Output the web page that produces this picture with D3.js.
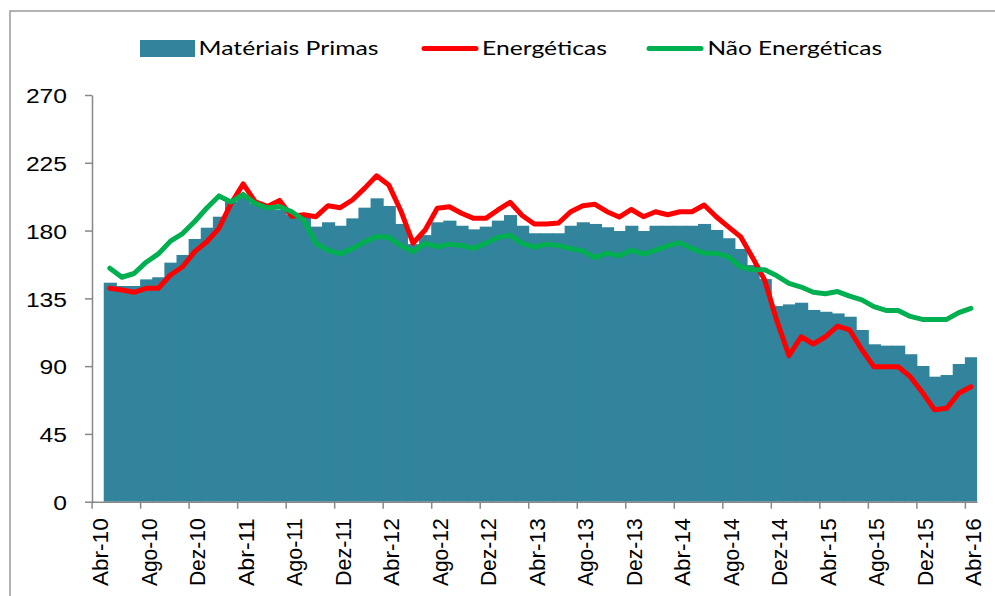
<!DOCTYPE html>
<html>
<head>
<meta charset="utf-8">
<script src="https://cdn.jsdelivr.net/npm/d3@7"></script>
<style>
  body { margin: 0; background: #fff; }
  svg { font-family: Lato, "Liberation Sans", sans-serif; }
</style>
</head>
<body>
<div id="chart"></div>
<script>
// month names used to build the category labels (Abr-10 .. Abr-16)
var monthNames = ["Jan", "Fev", "Mar", "Abr", "Mai", "Jun", "Jul", "Ago", "Set", "Out", "Nov", "Dez"];
var months = [];
for (var k = 0; k < 73; k++) {
    var m = (3 + k) % 12, yr = 10 + Math.floor((3 + k) / 12);
    months.push(monthNames[m] + "-" + yr);
}

// series values (first month has no data)
var materiasPrimas = [null, 145.4, 143.2, 143.2, 147.6, 149, 158.7, 163.8, 174.4, 181.9, 189.2, 199.2, 203, 198, 195, 194,
    190.3, 189.2, 182.6, 185.5, 183.2, 188.1, 195.2, 201.4, 196.3, 184.4, 171, 177, 185.5, 186.6, 183.2, 180.8, 182.6,
    186.6, 190.3, 183.2, 178.2, 178.2, 178.2, 183.2, 185.5, 184.4, 182.2, 179.7, 183.2, 179.7, 183.2, 183.2, 183.2, 183.2,
    184.4, 180.4, 174.9, 167.8, 157.1, 147.8, 129.9, 131, 132.1, 127.3, 126.1, 125, 122.8, 114, 104.5, 103.6, 103.6, 97.9,
    90.1, 83, 84.1, 91.4, 95.9];

var energeticas = [null, 141.7, 140.5, 139, 141.7, 141.7, 150.5, 156, 166, 172.6, 181.5, 198, 211, 199, 196, 200, 189.5,
    190.5, 189.2, 196.5, 195.2, 200.3, 208, 216.4, 210.3, 193, 171.6, 180.4, 194.8, 195.8, 191.5, 188.1, 188.1, 193.7,
    198.8, 190, 184.4, 184.4, 185, 192.5, 196.5, 197.4, 192.5, 189, 194, 189.2, 192.5, 190.5, 192.5, 192.5, 197, 189.2,
    182.5, 176, 162, 147, 120, 97, 109.5, 104.7, 109.5, 116.6, 114, 101, 89.6, 89.6, 89.6, 83, 72.5, 61, 62, 72, 76.3];

var naoEnergeticas = [null, 155, 149, 151.5, 159, 164.5, 173, 178, 186, 195, 203, 199, 204, 198, 195, 196, 192.5, 187,
    171.5, 167, 164.5, 168, 172.5, 176, 175.5, 170, 166, 171.5, 169.3, 171, 170, 168.2, 171.5, 175.5, 177, 171.5, 169, 171,
    170, 168, 166.5, 162, 165, 163.3, 167, 164.4, 167, 169.8, 172, 168, 165, 165, 162.6, 156, 154, 154, 150, 145, 142.5,
    139, 138, 139.5, 136.5, 134, 129.5, 127, 127, 123, 121, 121, 121, 125.5, 128.4];

var yTicks = [0, 45, 90, 135, 180, 225, 270];
var xTickEvery = 4;

var legendItems = [
    {name: "Matériais Primas", type: "bar", color: "#31849B"},
    {name: "Energéticas", type: "line", color: "#FF0000"},
    {name: "Não Energéticas", type: "line", color: "#00B050"}
];

var W = 995, H = 596;

var svg = d3.select("#chart")
    .append("svg")
    .attr("width", W)
    .attr("height", H);

// outer chart frame (runs off the right and bottom edges)
svg.append("rect")
    .attr("x", 10).attr("y", 11)
    .attr("width", 1100).attr("height", 700)
    .attr("fill", "none")
    .attr("stroke", "#9a9a9a")
    .attr("stroke-width", 1.5);

var x = d3.scaleBand()
    .domain(d3.range(months.length))
    .range([91.6, 977])
    .padding(0);

// same range, but for category boundaries (tick marks)
var xb = d3.scaleLinear()
    .domain([0, months.length])
    .range([91.6, 977]);

var y = d3.scaleLinear()
    .domain([0, 270])
    .range([501.7, 95]);

// bars (gap width 0, slight overlap hides the seams)
var last = months.length - 1;
svg.append("g")
    .selectAll("rect")
    .data(materiasPrimas.map(function (v, i) { return {i: i, v: v}; })
        .filter(function (d) { return d.v != null; }))
    .enter()
    .append("rect")
    .attr("x", function (d) { return x(d.i); })
    .attr("width", function (d) { return x.bandwidth() + (d.i < last ? 1 : 0); })
    .attr("y", function (d) { return y(d.v); })
    .attr("height", function (d) { return y(0) - y(d.v); })
    .attr("fill", "#31849B");

// Y axis
var yAxis = svg.append("g")
    .attr("transform", "translate(92,0)")
    .call(d3.axisLeft(y).tickValues(yTicks).tickSize(7).tickPadding(18).tickSizeOuter(0));

yAxis.select(".domain").attr("stroke", "#888").attr("stroke-width", 1.5);
yAxis.selectAll(".tick line").attr("stroke", "#888").attr("stroke-width", 1.5);
yAxis.selectAll(".tick text")
    .attr("font-size", 20.5)
    .attr("fill", "#000")
    .attr("dy", "0.38em")
    .attr("textLength", function (d) { return String(d).length * 13.7; })
    .attr("lengthAdjust", "spacingAndGlyphs");

// X axis: ticks on category boundaries every 4 months, labels on category centres
var xAxis = svg.append("g")
    .attr("transform", "translate(0," + y(0) + ")")
    .call(d3.axisBottom(xb)
        .tickValues(d3.range(0, months.length, xTickEvery))
        .tickFormat(function (d) { return months[d]; })
        .tickSize(7)
        .tickSizeOuter(0));

xAxis.select(".domain").attr("stroke", "#888").attr("stroke-width", 1.5);
xAxis.selectAll(".tick line").attr("stroke", "#888").attr("stroke-width", 1.5);
xAxis.selectAll(".tick text")
    .attr("font-size", 22)
    .attr("fill", "#000")
    .attr("x", 0).attr("y", 0).attr("dy", 0)
    .attr("text-anchor", "end")
    .attr("transform", "translate(" + (x.bandwidth() / 2 + 10) + "," + (518.3 - y(0)) + ") rotate(-90)")
    .attr("textLength", function (d) { return months[d].length * 11.3; })
    .attr("lengthAdjust", "spacingAndGlyphs");

// lines
var line = d3.line()
    .defined(function (d) { return d != null; })
    .x(function (d, i) { return x(i) + x.bandwidth() / 2; })
    .y(function (d) { return y(d); });

svg.append("path")
    .datum(energeticas)
    .attr("fill", "none")
    .attr("stroke", "#FF0000")
    .attr("stroke-width", 5)
    .attr("stroke-linejoin", "round")
    .attr("stroke-linecap", "round")
    .attr("d", line);

svg.append("path")
    .datum(naoEnergeticas)
    .attr("fill", "none")
    .attr("stroke", "#00B050")
    .attr("stroke-width", 5)
    .attr("stroke-linejoin", "round")
    .attr("stroke-linecap", "round")
    .attr("d", line);

// legend
var legendPos = [
    {sx: 140, tx: 198.6, tw: 180},
    {sx: 422, tx: 482, tw: 125},
    {sx: 647, tx: 707.5, tw: 174.5}
];
var legend = svg.append("g");
legendItems.forEach(function (item, i) {
    var p = legendPos[i];
    if (item.type === "bar") {
        legend.append("rect")
            .attr("x", p.sx).attr("y", 40)
            .attr("width", 55).attr("height", 17)
            .attr("fill", item.color);
    } else {
        legend.append("line")
            .attr("x1", p.sx + 2).attr("x2", p.sx + 54)
            .attr("y1", 48.5).attr("y2", 48.5)
            .attr("stroke", item.color)
            .attr("stroke-width", 5)
            .attr("stroke-linecap", "round");
    }
    legend.append("text")
        .attr("x", p.tx).attr("y", 55)
        .attr("font-size", 19)
        .attr("fill", "#000")
        .attr("textLength", p.tw)
        .attr("lengthAdjust", "spacingAndGlyphs")
        .text(item.name);
});
</script>
</body>
</html>
